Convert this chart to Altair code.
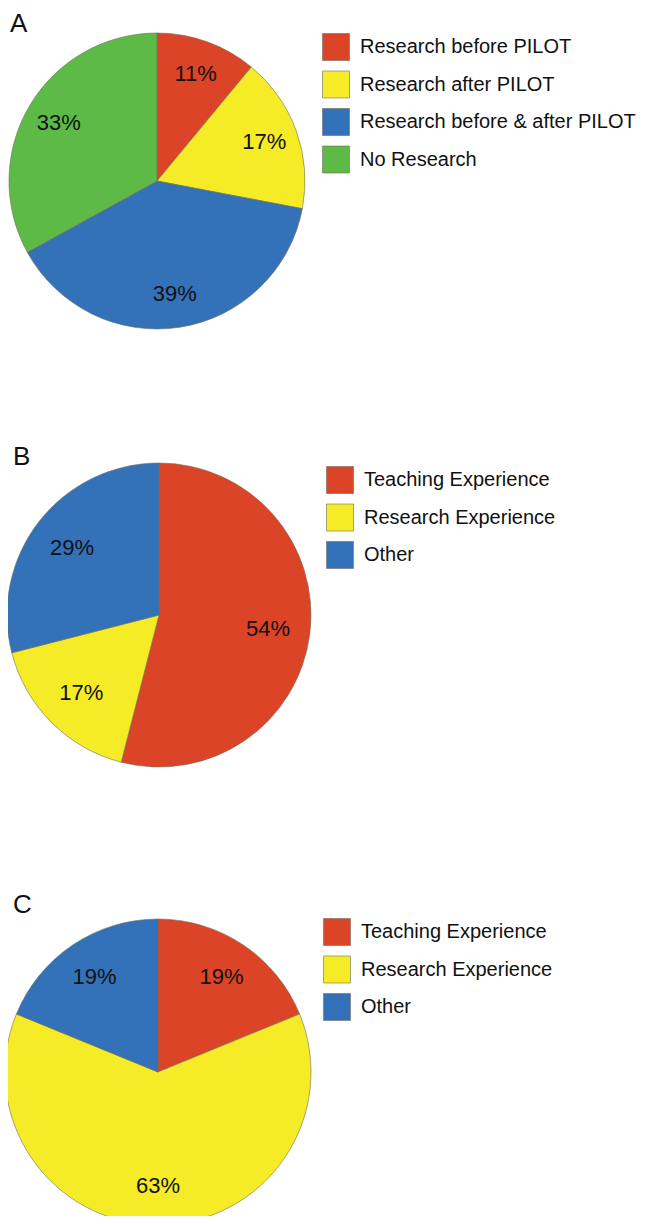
import altair as alt
import pandas as pd

# ---- data ----
cats_a = ["Research before PILOT", "Research after PILOT", "Research before & after PILOT", "No Research"]
vals_a = [11, 17, 39, 33]
colors_a = ["#DC4427", "#F5EB27", "#3371B8", "#5DBA47"]

cats_b = ["Teaching Experience", "Research Experience", "Other"]
vals_b = [54, 17, 29]
colors_b = ["#DC4427", "#F5EB27", "#3371B8"]

cats_c = ["Teaching Experience", "Research Experience", "Other"]
vals_c = [19, 63, 19]
colors_c = ["#DC4427", "#F5EB27", "#3371B8"]

panel_letters = ["A", "B", "C"]

FONT = "Liberation Sans"


def make_df(cats, vals):
    return pd.DataFrame({
        "cat": cats,
        "val": vals,
        "idx": list(range(len(cats))),
        "label": [f"{v}%" for v in vals],
    })


def pie(cats, vals, colors, cx, cy, r, lr, lx, ly):
    df = make_df(cats, vals)
    base = alt.Chart(df).encode(
        theta=alt.Theta("val:Q", stack=True),
        order=alt.Order("idx:Q", sort="ascending"),
        x=alt.value(cx),
        y=alt.value(cy),
    )
    arc = base.mark_arc(outerRadius=r, stroke="#6f6f5a", strokeWidth=0.6).encode(
        color=alt.Color(
            "cat:N",
            scale=alt.Scale(domain=cats, range=colors),
            sort=cats,
            legend=alt.Legend(
                orient="none",
                legendX=lx,
                legendY=ly,
                direction="vertical",
                title=None,
                symbolType="square",
                symbolSize=729,
                symbolStrokeColor="#6f6f5a",
                symbolStrokeWidth=0.6,
                symbolOpacity=1,
                labelFontSize=20,
                labelFont=FONT,
                labelColor="#111111",
                labelOffset=10,
                rowPadding=7.5,
                padding=0,
                labelLimit=400,
            ),
        )
    )
    text = base.mark_text(radius=lr, fontSize=22, font=FONT, color="#111111").encode(
        text="label:N"
    )
    return alt.layer(arc, text)


pa = pie(cats_a, vals_a, colors_a, 149, 173, 148, 114, 314, 25)
pb = pie(cats_b, vals_b, colors_b, 151, 607, 152, 110, 318, 458)
pc = pie(cats_c, vals_c, colors_c, 150, 1064, 153, 114, 315, 910)

letter_pos = [(2, 24), (5, 457), (5, 905)]
letter_layers = []
for letter, (lxp, lyp) in zip(panel_letters, letter_pos):
    letter_layers.append(
        alt.Chart(pd.DataFrame({"t": [letter]}))
        .mark_text(fontSize=26, font=FONT, align="left", baseline="alphabetic", color="#111111")
        .encode(text="t:N", x=alt.value(lxp), y=alt.value(lyp))
    )

chart = (
    alt.layer(pa, pb, pc, *letter_layers)
    .resolve_scale(theta="independent", color="independent")
    .properties(width=632, height=1208, padding=0, autosize=alt.AutoSizeParams(type="none"))
    .configure(background="white")
    .configure_view(stroke=None, strokeWidth=0)
)

chart.save("out.html", embed_options={"renderer": "svg", "actions": False})
